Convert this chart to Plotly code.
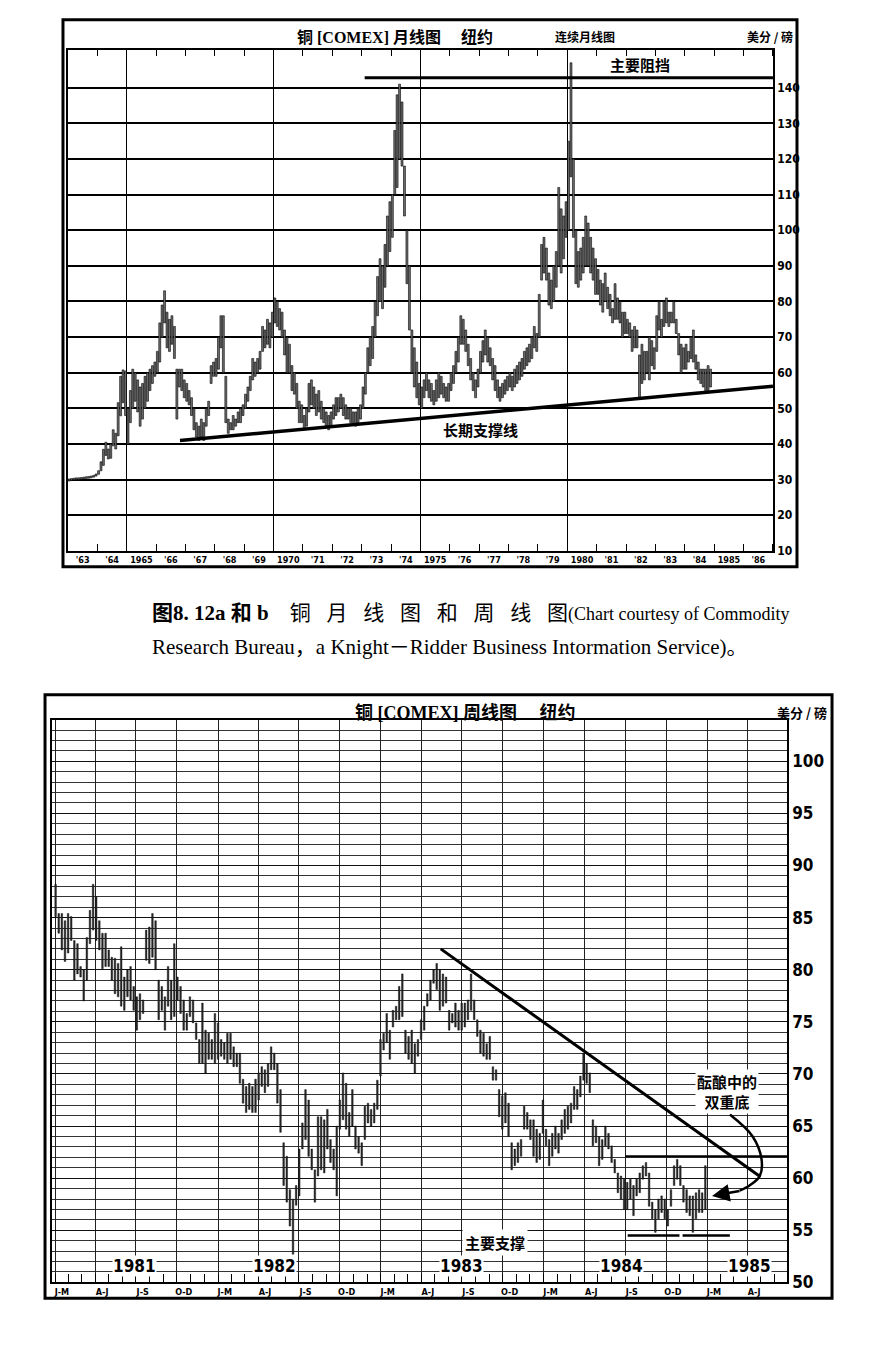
import numpy as np
import pandas as pd
import plotly.graph_objects as go

# ---------------- top panel: COMEX copper, monthly high/low (cents/lb), from 1963-01
month_start = "1963-01-01"
month_high = [
    30.2, 30.3, 30.4, 30.5, 30.5, 30.6, 30.7, 30.8, 30.9, 31.0, 31.2, 31.6,  # 1963
    32.5, 35.0, 38.5, 40.5, 38.6, 40.0, 44.0, 43.0, 51.6, 59.0, 60.8, 60.5,  # 1964
    50, 55, 61, 60, 58, 56, 57, 59, 60, 61, 62, 63,          # 1965
    66, 74, 79, 83, 77, 75, 76, 73, 61, 61, 61, 58,          # 1966
    57, 55, 53, 50, 46, 45, 47, 46, 50, 52, 62, 63,          # 1967
    64, 70, 76, 76, 59, 47, 46, 48, 47, 49, 50, 51,          # 1968
    54, 56, 59, 64, 63, 64, 66, 73, 72, 75, 74, 77,          # 1969
    81, 80, 78, 77, 72, 70, 68, 62, 60, 57, 52, 51,          # 1970
    48, 50, 57, 58, 56, 54, 55, 52, 50, 49, 48, 49,          # 1971
    51, 53, 53, 54, 53, 51, 50, 50, 49, 49, 50, 51,          # 1972
    56, 60, 67, 70, 73, 80, 87, 92, 90, 96, 104, 108,        # 1973
    110, 128, 138, 141, 136, 118, 100, 90, 72, 67, 63, 57,   # 1974
    56, 58, 60, 58, 57, 55, 58, 60, 59, 57, 56, 57,          # 1975
    60, 62, 66, 70, 76, 75, 72, 68, 64, 60, 58, 61,          # 1976
    66, 69, 72, 70, 67, 64, 62, 58, 56, 57, 58, 59,          # 1977
    60, 59, 61, 62, 63, 64, 66, 67, 68, 70, 73, 71,          # 1978
    82, 96, 98, 95, 88, 86, 90, 94, 112, 106, 104, 108,      # 1979
    125, 147, 120, 100, 94, 95, 98, 104, 102, 98, 95, 92,    # 1980
    89, 86, 85, 88, 84, 82, 78, 85, 81, 80, 77, 77,          # 1981
    75, 74, 72, 73, 72, 65, 68, 66, 66, 70, 69, 67,          # 1982
    76, 80, 75, 80, 81, 77, 77, 80, 75, 71, 68, 67,          # 1983
    68, 66, 70, 72, 65, 63, 61, 61, 61, 62, 61,              # 1984
]
month_low = [
    29.6, 29.8, 29.9, 30.0, 30.0, 30.1, 30.2, 30.3, 30.4, 30.5, 30.7, 31.0,  # 1963
    31.5, 32.5, 34.0, 36.8, 35.8, 36.0, 39.5, 38.6, 42.3, 47.9, 51.6, 48.0,  # 1964
    40, 46, 50, 52, 49, 45, 47, 50, 52, 55, 57, 59,          # 1965
    60, 63, 70, 74, 67, 66, 68, 64, 47, 56, 55, 53,          # 1966
    52, 51, 48, 44, 42, 41, 42, 41, 45, 48, 57, 59,          # 1967
    59, 61, 67, 60, 46, 43, 44, 44, 45, 46, 46, 48,          # 1968
    50, 52, 55, 58, 59, 60, 61, 66, 67, 68, 67, 70,          # 1969
    74, 73, 72, 70, 65, 60, 60, 55, 54, 50, 46, 46,          # 1970
    44, 45, 49, 51, 50, 48, 49, 47, 46, 45, 44, 45,          # 1971
    47, 48, 49, 50, 48, 47, 47, 46, 46, 45, 46, 47,          # 1972
    50, 54, 60, 62, 64, 70, 76, 80, 78, 84, 90, 94,          # 1973
    98, 110, 112, 120, 118, 104, 85, 72, 60, 56, 53, 51,     # 1974
    50, 53, 55, 53, 52, 51, 52, 53, 54, 53, 52, 52,          # 1975
    55, 57, 60, 63, 68, 68, 66, 62, 58, 55, 53, 56,          # 1976
    60, 63, 65, 63, 62, 58, 55, 53, 52, 53, 54, 55,          # 1977
    56, 55, 56, 57, 58, 59, 61, 62, 63, 64, 67, 66,          # 1978
    70, 86, 88, 86, 79, 78, 80, 84, 90, 88, 92, 98,          # 1979
    100, 115, 98, 85, 84, 86, 88, 90, 90, 88, 86, 82,        # 1980
    82, 79, 77, 80, 78, 76, 74, 75, 75, 74, 70, 71,          # 1981
    71, 70, 66, 67, 67, 53, 57, 58, 60, 58, 62, 61,          # 1982
    66, 72, 70, 73, 74, 73, 74, 74, 71, 65, 60, 61,          # 1983
    61, 63, 64, 63, 61, 58, 57, 56, 55, 55, 56,              # 1984
]
five_year_marks = ["1965-01-01", "1970-01-01", "1975-01-01", "1980-01-01"]
year_alias = {"'65": "1965", "'70": "1970", "'75": "1975", "'80": "1980", "'85": "1985"}
resist_x = ["1973-02-06", "1987-01-01"]
resist_y = [142.8, 142.8]
support_x = ["1966-10-25", "1987-01-01"]
support_y = [41.0, 56.2]

# ---------------- bottom panel: weekly high/low, from 1981-01-02
week_start = "1981-01-02"
week_high = [
    88.2, 85.4, 85.4, 84.7, 85.4, 85.1, 82.8, 82.5, 80.3, 80.0, 83.1, 85.7, 88.2,  # 81 Q1
    87.0, 84.7, 83.5, 83.5, 81.9, 81.2, 81.1, 80.6, 82.2, 79.3, 80.0, 80.3, 78.4,  # 81 Q2
    77.4, 77.7, 77.1, 83.8, 84.1, 85.4, 84.7, 79.0, 78.4, 77.4, 80.3, 79.0, 82.5,  # 81 Q3
    79.3, 78.4, 77.1, 75.8, 77.4, 77.1, 74.9, 73.3, 76.8, 74.2, 73.9, 73.3, 75.8,  # 81 Q4
    74.9, 73.3, 73.0, 73.9, 73.9, 72.6, 72.0, 72.0, 69.5, 68.8, 69.1, 68.8, 69.5,  # 82 Q1
    70.1, 70.7, 70.4, 71.0, 72.6, 72.0, 71.0, 68.5, 63.4, 62.1, 58.9, 58.0, 59.3,  # 82 Q2
    62.8, 65.3, 68.5, 67.5, 62.8, 60.8, 65.9, 65.9, 65.6, 66.6, 63.7, 62.8, 65.0,  # 82 Q3
    67.5, 70.1, 69.1, 66.3, 68.5, 65.0, 64.0, 63.4, 66.9, 67.2, 66.6, 67.2, 69.4,  # 82 Q4
    73.3, 73.9, 75.8, 74.2, 76.1, 76.5, 78.4, 79.6, 74.2, 73.6, 74.2, 72.9, 73.3,  # 83 Q1
    75.2, 76.5, 77.7, 79.0, 80.0, 80.6, 80.0, 79.6, 79.3, 76.1, 75.8, 76.8, 76.1,  # 83 Q2
    76.8, 76.8, 77.1, 79.6, 77.1, 75.2, 74.2, 73.9, 72.9, 73.6, 70.7, 70.4, 68.5,  # 83 Q3
    67.9, 68.2, 67.2, 63.4, 62.8, 63.4, 63.7, 66.9, 66.3, 65.6, 65.6, 64.7, 64.3,  # 83 Q4
    67.5, 64.7, 63.7, 64.3, 65.0, 64.3, 65.6, 66.6, 66.9, 67.2, 68.8, 68.5, 69.8,  # 84 Q1
    72.0, 71.0, 70.1, 65.6, 65.0, 64.0, 63.7, 65.0, 64.3, 63.1, 61.8, 60.5, 60.2,  # 84 Q2
    59.9, 59.6, 59.9, 59.3, 59.9, 60.5, 61.2, 61.5, 60.5, 57.7, 57.0, 58.0, 58.3,  # 84 Q3
    58.0, 57.0, 58.9, 61.2, 61.8, 61.2, 59.3, 58.9, 58.3, 58.3, 58.6, 58.9, 58.6,  # 84 Q4
    61.2,                                                                          # 85
]
week_low = [
    85.1, 83.5, 81.9, 80.8, 81.6, 82.8, 79.0, 79.6, 79.3, 77.0, 79.0, 82.5, 83.8,
    82.8, 81.9, 80.1, 80.3, 80.3, 79.0, 77.7, 77.4, 76.5, 76.1, 77.4, 77.1, 76.1,
    74.2, 75.2, 75.8, 80.9, 80.6, 81.2, 80.0, 75.2, 76.1, 74.2, 76.5, 75.2, 75.5,
    77.1, 75.8, 74.2, 74.2, 75.5, 74.9, 73.3, 71.0, 71.0, 70.1, 71.4, 71.4, 71.0,
    71.4, 71.7, 71.4, 71.0, 71.4, 70.7, 70.7, 69.1, 67.2, 66.3, 66.6, 66.3, 66.3,
    67.5, 68.8, 68.2, 68.8, 70.4, 70.4, 67.2, 64.4, 59.3, 57.7, 55.4, 52.7, 57.4,
    58.3, 62.8, 63.7, 62.1, 60.8, 57.7, 60.2, 60.8, 60.5, 62.8, 61.5, 60.8, 58.3,
    64.7, 65.6, 64.7, 64.0, 65.0, 62.8, 62.4, 61.2, 63.7, 65.3, 65.0, 65.3, 66.6,
    69.8, 72.3, 73.0, 71.4, 74.5, 75.2, 75.2, 75.5, 72.0, 71.4, 71.0, 70.1, 71.7,
    73.3, 74.2, 76.5, 77.1, 78.7, 78.1, 76.1, 76.5, 76.8, 74.2, 74.9, 74.5, 74.2,
    74.2, 74.5, 75.2, 76.1, 75.2, 73.6, 72.0, 71.7, 71.4, 71.4, 69.4, 69.4, 65.9,
    64.7, 65.3, 64.0, 60.8, 61.2, 61.5, 62.1, 64.7, 64.7, 63.7, 62.1, 61.5, 61.8,
    64.3, 63.1, 61.2, 62.1, 62.8, 62.4, 63.7, 64.3, 64.7, 65.3, 66.6, 66.6, 67.8,
    69.4, 69.1, 68.2, 63.1, 63.4, 61.2, 61.8, 63.1, 62.8, 61.5, 60.5, 58.6, 58.0,
    57.0, 57.0, 58.0, 56.4, 58.3, 58.6, 59.9, 60.2, 57.3, 56.1, 54.8, 56.1, 56.7,
    56.1, 55.4, 57.3, 59.3, 59.9, 59.3, 57.7, 56.7, 56.4, 54.8, 56.1, 56.7, 56.7,
    57.0,
]
quarter_alias = {"Jan": "J-M", "Apr": "A-J", "Jul": "J-S", "Oct": "O-D"}
year_labels = ["1981", "1982", "1983", "1984", "1985"]
year_label_at = ["1981-06-28", "1982-05-08", "1983-07-01", "1984-06-24", "1985-04-06"]
trend_x = ["1983-05-15", "1985-04-28"]
trend_y = [82.0, 60.2]
neck_x = ["1984-07-01", "1985-06-29"]
neck_y = [62.1, 62.1]
base_x = ["1984-07-07", "1984-10-31", None, "1984-11-07", "1985-02-21"]
base_y = [54.5, 54.5, None, 54.5, 54.5]
curve_x = ["1985-02-21", "1985-04-13", "1985-05-03", "1985-04-29", "1985-04-06", "1985-03-15"]
curve_y = [66.1, 64.0, 61.8, 60.2, 59.3, 58.8]

NARROW = "Liberation Sans Narrow, DejaVu Sans Condensed, Arial Narrow, sans-serif"
MIX = "Liberation Serif, Noto Sans CJK SC, serif"
CJK = "Noto Sans CJK SC, sans-serif"
SP = "\u2002\u2005"  # wide spacing like the printed caption

month_dates = pd.date_range(month_start, periods=len(month_high), freq="MS")
week_dates = pd.date_range(week_start, periods=len(week_high), freq="7D")
DAY = 24 * 3600 * 1000

fig = go.Figure()

fig.add_trace(go.Bar(
    x=month_dates, base=month_low, y=np.subtract(month_high, month_low),
    xperiod="M1", xperiodalignment="middle", width=24 * DAY,
    marker=dict(color="#6e6e6e", line=dict(color="black", width=0.6)),
    xaxis="x", yaxis="y", showlegend=False, hoverinfo="skip"))
fig.add_trace(go.Scatter(x=five_year_marks, y=[np.nan] * len(five_year_marks),
                         xaxis="x3", yaxis="y", showlegend=False, hoverinfo="skip"))
fig.add_trace(go.Scatter(x=resist_x, y=resist_y, mode="lines", line=dict(color="black", width=3),
                         xaxis="x", yaxis="y", showlegend=False, hoverinfo="skip"))
fig.add_trace(go.Scatter(x=support_x, y=support_y, mode="lines", line=dict(color="black", width=3.5),
                         xaxis="x", yaxis="y", showlegend=False, hoverinfo="skip"))

fig.add_trace(go.Bar(
    x=week_dates, base=week_low, y=np.subtract(week_high, week_low), width=3.6 * DAY,
    marker=dict(color="#2a2a2a", line=dict(color="black", width=0.4)),
    xaxis="x2", yaxis="y2", showlegend=False, hoverinfo="skip"))
fig.add_trace(go.Scatter(x=trend_x, y=trend_y, mode="lines", line=dict(color="black", width=3),
                         xaxis="x2", yaxis="y2", showlegend=False, hoverinfo="skip"))
fig.add_trace(go.Scatter(x=neck_x, y=neck_y, mode="lines", line=dict(color="black", width=2),
                         xaxis="x2", yaxis="y2", showlegend=False, hoverinfo="skip"))
fig.add_trace(go.Scatter(x=base_x, y=base_y, mode="lines", line=dict(color="black", width=2.5),
                         xaxis="x2", yaxis="y2", showlegend=False, hoverinfo="skip"))
fig.add_trace(go.Scatter(x=curve_x, y=curve_y, mode="lines", line=dict(color="black", width=2.5, shape="spline"),
                         xaxis="x2", yaxis="y2", showlegend=False, hoverinfo="skip"))


def ptext(text, x, y, size, family=CJK, xanchor="center"):
    return dict(text=text, x=x, y=y, xref="paper", yref="paper", xanchor=xanchor, yanchor="middle",
                showarrow=False, font=dict(family=family, size=size, color="black"))


ann = [
    # top panel
    ptext("<b>铜 [COMEX] 月线图　 纽约</b>", 0.451, 0.9726, 16, MIX),
    ptext("<b>连续月线图</b>", 0.668, 0.9726, 12),
    ptext("<b>美分 / 磅</b>", 0.907, 0.9726, 12, xanchor="right"),
    ptext("<b>主要阻挡</b>", 0.7306, 0.9519, 15),
    ptext("<b>长期支撑线</b>", 0.548, 0.6797, 15),
    # caption
    ptext("<b>图8. 12a 和 b</b>" + "\u2002" * 2 + SP.join("铜月线图和周线图")
          + '<span style="font-size:18px">(Chart courtesy of Commodity</span>',
          0.171, 0.5426, 21, MIX, xanchor="left"),
    ptext("Research Bureau，a Knight－Ridder Business Intormation Service)。",
          0.171, 0.5174, 21, MIX, xanchor="left"),
    # bottom panel
    ptext("<b>铜 [COMEX] 周线图　 纽约</b>", 0.531, 0.4685, 18, MIX),
    ptext("<b>美分 / 磅</b>", 0.946, 0.4685, 13, xanchor="right"),
]
for lab, at in zip(year_labels, year_label_at):
    ann.append(dict(text="<b>%s</b>" % lab, x=at, y=51.6, xref="x2", yref="y2", showarrow=False,
                    bgcolor="white", borderpad=0, font=dict(family=NARROW, size=17, color="black")))
ann.append(dict(text="<b>主要支撑</b>", x="1983-09-13", y=53.8, xref="x2", yref="y2", showarrow=False,
                bgcolor="white", borderpad=2, font=dict(family=CJK, size=15, color="black")))
ann.append(dict(text="<b>酝酿中的<br>双重底</b>", x="1985-02-14", y=68.3, xref="x2", yref="y2",
                showarrow=False, bgcolor="white", borderpad=1,
                font=dict(family=CJK, size=15, color="black")))
ann.append(dict(text="", x="1985-01-12", y=58.3, ax="1985-03-18", ay=58.8, xref="x2", yref="y2",
                axref="x2", ayref="y2", showarrow=True, arrowhead=2, arrowsize=1.4, arrowwidth=2.5,
                arrowcolor="black"))

frames = [
    dict(type="rect", xref="paper", yref="paper", x0=0.0719, x1=0.9098, y0=0.5774, y1=0.9852,
         line=dict(color="black", width=3)),
    dict(type="rect", xref="paper", yref="paper", x0=0.0514, x1=0.9498, y0=0.0318, y1=0.4819,
         line=dict(color="black", width=3)),
]

fig.update_layout(
    width=876, height=1351, margin=dict(l=0, r=0, t=0, b=0),
    paper_bgcolor="white", plot_bgcolor="white", showlegend=False,
    annotations=ann, shapes=frames,
    xaxis=dict(domain=[0.0776, 0.8824], anchor="y", type="date",
               range=["1963-01-01", "1987-01-01"], dtick="M12", tick0="1963-01-01",
               ticklabelmode="period", tickformat="'%y", labelalias=year_alias,
               ticks="inside", ticklen=7, tickwidth=1.2, tickcolor="black",
               showline=True, linecolor="black", linewidth=1.5, mirror="ticks",
               showgrid=False, zeroline=False,
               tickfont=dict(family=NARROW, size=9, color="black", weight="bold")),
    xaxis3=dict(overlaying="x", anchor="y", type="date", range=["1963-01-01", "1987-01-01"],
                tickvals=five_year_marks, showticklabels=False, ticks="",
                showgrid=True, gridcolor="black", gridwidth=1.2, zeroline=False),
    yaxis=dict(domain=[0.5892, 0.9630], anchor="x", range=[10, 150.7], side="right",
               tickvals=list(range(10, 150, 10)),
               showgrid=True, gridcolor="black", gridwidth=1.5, ticks="",
               showline=True, linecolor="black", linewidth=1.5, mirror=True, zeroline=False,
               tickfont=dict(family=NARROW, size=12, color="black", weight="bold")),
    xaxis2=dict(domain=[0.0594, 0.8984], anchor="y2", type="date",
                range=["1980-12-25", "1985-06-29"], dtick="M3", tick0="1981-01-01",
                ticklabelmode="period", tickformat="%b", labelalias=quarter_alias,
                ticks="inside", ticklen=9, tickwidth=1.2, tickcolor="black",
                minor=dict(dtick="M1", ticks="inside", ticklen=9, tickcolor="black", showgrid=False),
                showgrid=True, gridcolor="#222", gridwidth=1.2,
                showline=True, linecolor="black", linewidth=1.5, mirror=True, zeroline=False,
                tickfont=dict(family=NARROW, size=9, color="black", weight="bold")),
    yaxis2=dict(domain=[0.0437, 0.4634], anchor="x2", range=[50, 104], side="right",
                tick0=50, dtick=5, showgrid=True, gridcolor="#111", gridwidth=1.3, ticks="",
                minor=dict(dtick=1, showgrid=True, gridcolor="#333", gridwidth=1),
                showline=True, linecolor="black", linewidth=1.5, mirror=True, zeroline=False,
                tickfont=dict(family=NARROW, size=17, color="black", weight="bold")),
)

fig.write_html("out.html", config={"displayModeBar": False},
               post_script="document.body.style.margin='0';document.body.style.overflow='hidden';")
